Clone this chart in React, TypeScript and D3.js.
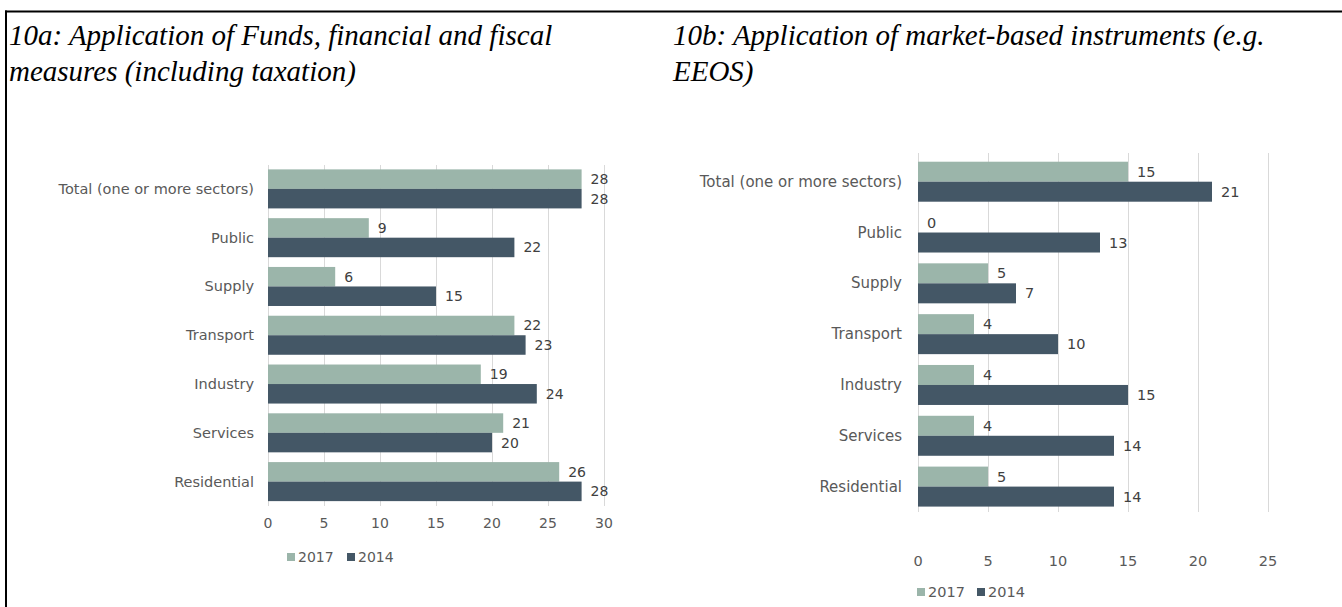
import React from "react";
import * as d3 from "d3";

const categories = ["Total (one or more sectors)", "Public", "Supply", "Transport", "Industry", "Services", "Residential"];
const seriesNames = ["2017", "2014"];
const a2017 = [28, 9, 6, 22, 19, 21, 26];
const a2014 = [28, 22, 15, 23, 24, 20, 28];
const b2017 = [15, 0, 5, 4, 4, 4, 5];
const b2014 = [21, 13, 7, 10, 15, 14, 14];
const aTicks = [0, 5, 10, 15, 20, 25, 30];
const bTicks = [0, 5, 10, 15, 20, 25];
const titleA = ["10a: Application of Funds, financial and fiscal", "measures (including taxation)"];
const titleB = ["10b: Application of market-based instruments (e.g.", "EEOS)"];

const COLORS = ["#9bb5aa", "#445766"];
const TXT = "#595959";
const FONT = "'DejaVu Sans', Verdana, sans-serif";

type PanelProps = {
  s2017: number[];
  s2014: number[];
  ticks: number[];
  x0: number;
  x1: number;
  y0: number;
  y1: number;
  pad: number;
  catX: number;
  catSize: number;
  tickSize: number;
  tickY: number;
  legendX: number;
  legendY: number;
  gridTop: number;
};

function Panel(p: PanelProps) {
  const x = d3.scaleLinear().domain([0, p.ticks[p.ticks.length - 1]]).range([p.x0, p.x1]);
  const y = d3.scaleBand<string>().domain(categories).range([p.y0, p.y1]).paddingInner(p.pad).paddingOuter(p.pad / 2);
  const sub = d3.scaleBand<string>().domain(seriesNames).range([0, y.bandwidth()]);
  const series = [p.s2017, p.s2014];
  return (
    <g>
      {p.ticks.map((t) => (
        <line key={"g" + t} x1={x(t) + 0.5} x2={x(t) + 0.5} y1={p.gridTop} y2={p.y1} stroke="#d9d9d9" strokeWidth={1} />
      ))}
      {categories.map((c, i) => (
        <g key={c}>
          <text x={p.catX} y={(y(c) as number) + y.bandwidth() / 2} textAnchor="end" dominantBaseline="central" fontFamily={FONT} fontSize={p.catSize} fill={TXT}>
            {c}
          </text>
          {series.map((s, k) => {
            const yy = (y(c) as number) + (sub(seriesNames[k]) as number);
            return (
              <g key={k}>
                <rect x={x(0)} y={yy} width={x(s[i]) - x(0)} height={sub.bandwidth()} fill={COLORS[k]} />
                <text x={x(s[i]) + 9} y={yy + sub.bandwidth() / 2} dominantBaseline="central" fontFamily={FONT} fontSize={p.tickSize} fill="#404040">
                  {s[i]}
                </text>
              </g>
            );
          })}
        </g>
      ))}
      {p.ticks.map((t) => (
        <text key={"t" + t} x={x(t)} y={p.tickY} textAnchor="middle" dominantBaseline="central" fontFamily={FONT} fontSize={p.tickSize} fill={TXT}>
          {t}
        </text>
      ))}
      {seriesNames.map((n, k) => {
        const lx = p.legendX + k * 60;
        return (
          <g key={n}>
            <rect x={lx} y={p.legendY - 4} width={8} height={8} fill={COLORS[k]} />
            <text x={lx + 11} y={p.legendY} dominantBaseline="central" fontFamily={FONT} fontSize={p.tickSize} fill={TXT}>
              {n}
            </text>
          </g>
        );
      })}
    </g>
  );
}

export default function App() {
  const titleFont = "'Liberation Serif', 'Times New Roman', serif";
  return (
    <svg width={1342} height={607} style={{ position: "absolute", left: 0, top: 0, background: "#fff" }}>
      <rect x={0} y={0} width={1342} height={607} fill="#fff" />
      <line x1={5} x2={1342} y1={11.5} y2={11.5} stroke="#000" strokeWidth={2} />
      <line x1={6} x2={6} y1={10.5} y2={607} stroke="#000" strokeWidth={2} />
      {titleA.map((t, i) => (
        <text key={t} x={9} y={45 + i * 36} fontFamily={titleFont} fontStyle="italic" fontSize={29} fill="#000">
          {t}
        </text>
      ))}
      {titleB.map((t, i) => (
        <text key={t} x={673} y={45 + i * 36} fontFamily={titleFont} fontStyle="italic" fontSize={29} fill="#000">
          {t}
        </text>
      ))}
      <Panel s2017={a2017} s2014={a2014} ticks={aTicks} x0={268} x1={604} y0={164.5} y1={506} pad={0.2} gridTop={165} catX={254} catSize={14.5} tickSize={14} tickY={523} legendX={287} legendY={557} />
      <Panel s2017={b2017} s2014={b2014} ticks={bTicks} x0={918} x1={1268} y0={156.3} y1={512} pad={0.213} gridTop={153} catX={902} catSize={15} tickSize={14.5} tickY={561} legendX={917} legendY={592} />
    </svg>
  );
}
